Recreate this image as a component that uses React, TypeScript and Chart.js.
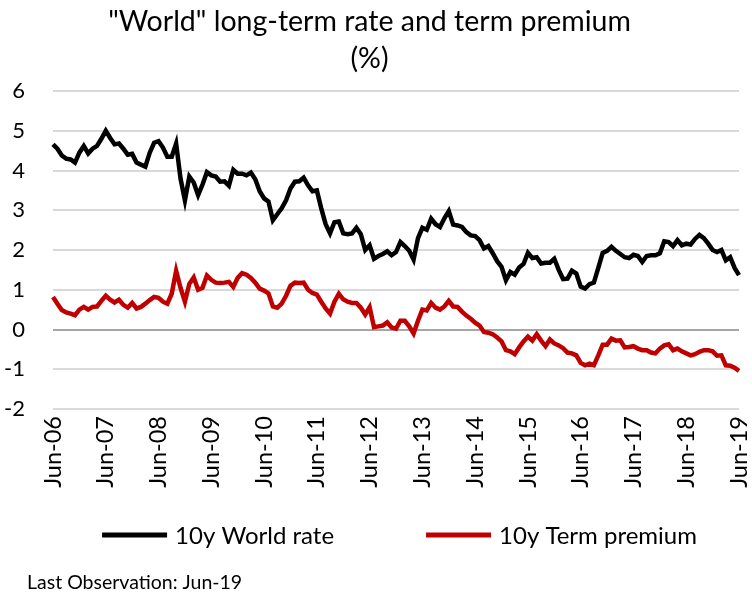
import React, { useEffect, useRef } from "react";
import { Chart, registerables } from "chart.js";

Chart.register(...registerables);

const FONT = "Lato, 'Open Sans', sans-serif";

const titleLines = ['"World" long-term rate and term premium', "(%)"];
const seriesNames = ["10y World rate", "10y Term premium"];
const seriesColors = ["#000000", "#C00000"];
const footerText = "Last Observation: Jun-19";

const tickLabels = [
  "Jun-06", "Jun-07", "Jun-08", "Jun-09", "Jun-10", "Jun-11", "Jun-12",
  "Jun-13", "Jun-14", "Jun-15", "Jun-16", "Jun-17", "Jun-18", "Jun-19",
];
const monthNames = ["Jan", "Feb", "Mar", "Apr", "May", "Jun", "Jul", "Aug", "Sep", "Oct", "Nov", "Dec"];

// Monthly categories Jun-06 .. Jun-19
const categories: string[] = [];
for (let i = 0; i <= 156; i++) {
  const k = 5 + i;
  const yy = 6 + Math.floor(k / 12);
  categories.push(`${monthNames[k % 12]}-${String(yy).padStart(2, "0")}`);
}

const worldRate = [
  4.66, 4.55, 4.38, 4.30, 4.28, 4.20, 4.45, 4.62, 4.43, 4.55, 4.62, 4.80, 5.00, 4.82, 4.66, 4.68, 4.55, 4.40, 4.42, 4.20, 4.15,
  4.10, 4.45, 4.70, 4.74, 4.58, 4.35, 4.35, 4.68, 3.80, 3.25, 3.85, 3.70, 3.38, 3.65, 3.96, 3.88, 3.85, 3.72, 3.73, 3.62, 4.02, 3.92,
  3.92, 3.88, 3.95, 3.78, 3.48, 3.30, 3.22, 2.75, 2.90, 3.05, 3.25, 3.55, 3.72, 3.73, 3.82, 3.63, 3.48, 3.50, 3.05, 2.65, 2.42, 2.70, 2.72, 2.42,
  2.40, 2.42, 2.56, 2.40, 2.00, 2.12, 1.78, 1.85, 1.90, 1.97, 1.87, 1.95, 2.20, 2.10, 1.98, 1.76, 2.30, 2.56, 2.51, 2.79, 2.65, 2.58, 2.80,
  2.98, 2.64, 2.62, 2.58, 2.45, 2.37, 2.35, 2.25, 2.04, 2.10, 1.92, 1.72, 1.58, 1.24, 1.45, 1.38, 1.56, 1.65, 1.93, 1.80, 1.82, 1.66,
  1.68, 1.68, 1.78, 1.50, 1.27, 1.28, 1.48, 1.41, 1.08, 1.03, 1.14, 1.18, 1.55, 1.93, 1.98, 2.08, 1.98, 1.90, 1.82, 1.80, 1.88, 1.85, 1.70,
  1.85, 1.87, 1.87, 1.92, 2.22, 2.20, 2.10, 2.25, 2.12, 2.16, 2.14, 2.28, 2.38, 2.30, 2.16, 2.00, 1.95, 2.00, 1.74, 1.82, 1.55, 1.37,
];

const termPremium = [
  0.82, 0.65, 0.49, 0.43, 0.40, 0.36, 0.50, 0.57, 0.50, 0.57, 0.58, 0.72, 0.85, 0.75, 0.68, 0.75, 0.62, 0.55, 0.67, 0.53, 0.57,
  0.65, 0.74, 0.82, 0.80, 0.70, 0.65, 0.90, 1.48, 1.05, 0.70, 1.15, 1.31, 1.00, 1.05, 1.36, 1.25, 1.18, 1.17, 1.18, 1.20, 1.07, 1.30,
  1.42, 1.38, 1.30, 1.18, 1.03, 0.98, 0.91, 0.58, 0.55, 0.65, 0.85, 1.10, 1.18, 1.17, 1.18, 1.00, 0.92, 0.88, 0.70, 0.53, 0.40, 0.70, 0.90, 0.76,
  0.70, 0.67, 0.67, 0.55, 0.38, 0.56, 0.06, 0.08, 0.10, 0.18, 0.05, 0.02, 0.22, 0.22, 0.08, -0.10, 0.22, 0.50, 0.48, 0.67, 0.55, 0.50, 0.58,
  0.72, 0.58, 0.57, 0.45, 0.35, 0.27, 0.17, 0.10, -0.06, -0.08, -0.12, -0.20, -0.30, -0.52, -0.55, -0.62, -0.45, -0.30, -0.18, -0.28, -0.12, -0.28,
  -0.42, -0.25, -0.35, -0.40, -0.47, -0.58, -0.60, -0.65, -0.84, -0.90, -0.86, -0.90, -0.65, -0.38, -0.38, -0.23, -0.28, -0.27, -0.45, -0.44, -0.42, -0.48, -0.52,
  -0.52, -0.58, -0.60, -0.48, -0.40, -0.37, -0.52, -0.48, -0.55, -0.60, -0.65, -0.62, -0.56, -0.52, -0.52, -0.55, -0.66, -0.65, -0.90, -0.91, -0.96, -1.04,
];

const legendFooterPlugin = {
  id: "legendFooter",
  afterDraw(chart: any) {
    const ctx = chart.ctx as CanvasRenderingContext2D;
    ctx.save();
    ctx.font = `24px ${FONT}`;
    ctx.textBaseline = "middle";
    ctx.textAlign = "left";
    const items = chart.data.datasets.map((d: any) => ({ label: d.label, color: d.borderColor }));
    const lineW = 65;
    const gapText = 8;
    const gapItem = 92;
    const widths = items.map((it: any) => ctx.measureText(it.label).width);
    let total = gapItem * (items.length - 1);
    items.forEach((_: any, i: number) => (total += lineW + gapText + widths[i]));
    let x = 399.5 - total / 2;
    const y = 535;
    items.forEach((it: any, i: number) => {
      ctx.strokeStyle = it.color;
      ctx.lineWidth = 5;
      ctx.beginPath();
      ctx.moveTo(x, y);
      ctx.lineTo(x + lineW, y);
      ctx.stroke();
      x += lineW + gapText;
      ctx.fillStyle = "#000";
      ctx.fillText(it.label, x, y + 1);
      x += widths[i] + gapItem;
    });
    ctx.font = `19.5px ${FONT}`;
    ctx.fillStyle = "#000";
    ctx.fillText(footerText, 27, 583);
    ctx.restore();
  },
};

export default function App() {
  const canvasRef = useRef<HTMLCanvasElement | null>(null);

  useEffect(() => {
    document.body.style.margin = "0";
    const canvas = canvasRef.current;
    if (!canvas) return;
    const chart = new Chart(canvas, {
      type: "line",
      data: {
        labels: categories,
        datasets: [
          {
            label: seriesNames[0],
            data: worldRate,
            borderColor: seriesColors[0],
            backgroundColor: seriesColors[0],
            borderWidth: 4.5,
            pointRadius: 0,
            tension: 0,
          },
          {
            label: seriesNames[1],
            data: termPremium,
            borderColor: seriesColors[1],
            backgroundColor: seriesColors[1],
            borderWidth: 4.5,
            pointRadius: 0,
            tension: 0,
          },
        ],
      },
      options: {
        responsive: false,
        animation: false,
        layout: { padding: { left: 0, right: 13, top: 0, bottom: 89 } },
        plugins: {
          legend: { display: false },
          tooltip: { enabled: false },
          title: {
            display: true,
            text: titleLines,
            color: "#000",
            font: { family: FONT, size: 28.5, weight: "normal", lineHeight: 1.3 },
            padding: { top: 3, bottom: 14 },
          },
        },
        scales: {
          x: {
            type: "category",
            offset: false,
            grid: { display: false, drawTicks: false },
            border: { display: false },
            ticks: {
              autoSkip: false,
              maxRotation: 90,
              minRotation: 90,
              padding: 7,
              color: "#000",
              font: { family: FONT, size: 23.5 },
              callback: (_v: any, i: number) => (i % 12 === 0 ? tickLabels[i / 12] : null),
            },
            afterFit: (s: any) => {
              s.height = 100;
              s.paddingLeft = 0;
              s.paddingRight = 0;
            },
          },
          y: {
            min: -2,
            max: 6,
            ticks: {
              stepSize: 1,
              padding: 28,
              color: "#000",
              font: { family: FONT, size: 22 },
            },
            grid: {
              drawTicks: false,
              color: (c: any) => (c.tick && c.tick.value === 0 ? "#a6a6a6" : "#d9d9d9"),
              lineWidth: 2,
            },
            border: { display: false },
            afterFit: (s: any) => {
              s.width = 53;
              s.paddingTop = 0;
              s.paddingBottom = 0;
            },
          },
        },
      },
      plugins: [legendFooterPlugin],
    });
    return () => chart.destroy();
  }, []);

  return (
    <div style={{ width: 752, height: 598 }}>
      <canvas ref={canvasRef} width={752} height={598} style={{ display: "block", width: 752, height: 598 }} />
    </div>
  );
}
